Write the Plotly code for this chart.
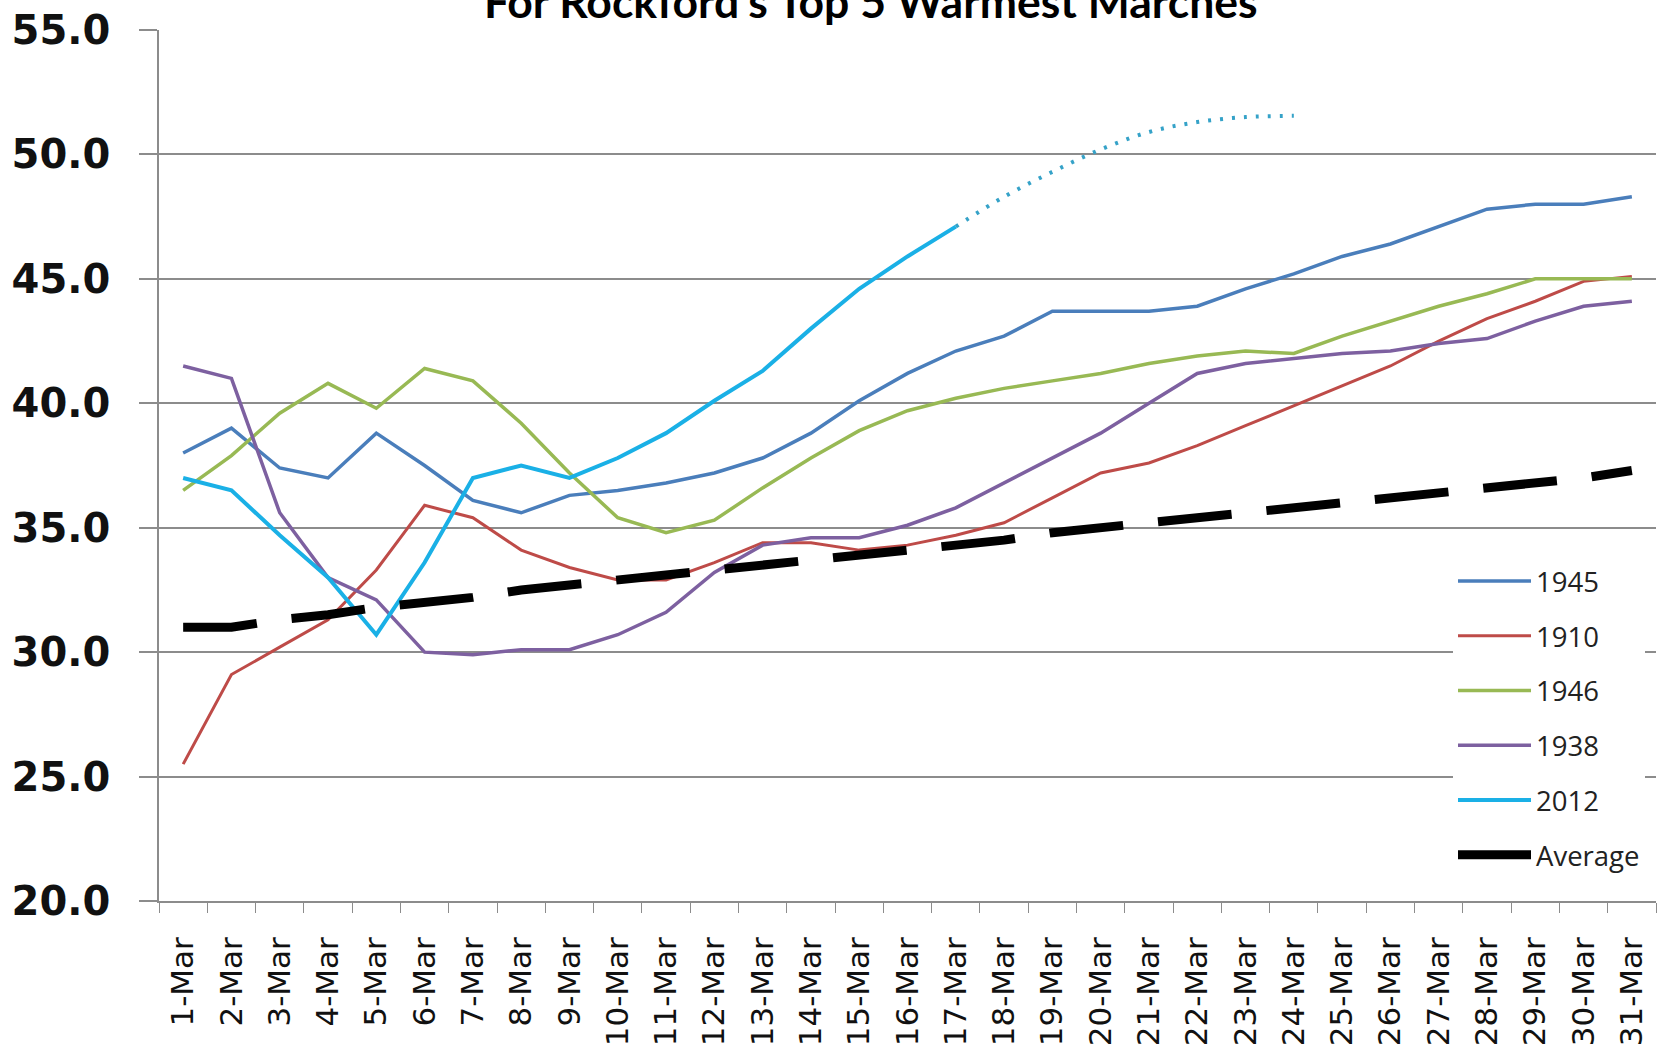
import plotly.graph_objects as go

days = ["1-Mar", "2-Mar", "3-Mar", "4-Mar", "5-Mar", "6-Mar", "7-Mar", "8-Mar", "9-Mar", "10-Mar",
        "11-Mar", "12-Mar", "13-Mar", "14-Mar", "15-Mar", "16-Mar", "17-Mar", "18-Mar", "19-Mar", "20-Mar",
        "21-Mar", "22-Mar", "23-Mar", "24-Mar", "25-Mar", "26-Mar", "27-Mar", "28-Mar", "29-Mar", "30-Mar",
        "31-Mar"]

y1945 = [38.0, 39.0, 37.4, 37.0, 38.8, 37.5, 36.1, 35.6, 36.3, 36.5, 36.8, 37.2, 37.8, 38.8, 40.1, 41.2,
         42.1, 42.7, 43.7, 43.7, 43.7, 43.9, 44.6, 45.2, 45.9, 46.4, 47.1, 47.8, 48.0, 48.0, 48.3]
y1910 = [25.5, 29.1, 30.2, 31.3, 33.3, 35.9, 35.4, 34.1, 33.4, 32.9, 32.9, 33.6, 34.4, 34.4, 34.1, 34.3,
         34.7, 35.2, 36.2, 37.2, 37.6, 38.3, 39.1, 39.9, 40.7, 41.5, 42.5, 43.4, 44.1, 44.9, 45.1]
y1946 = [36.5, 37.9, 39.6, 40.8, 39.8, 41.4, 40.9, 39.2, 37.2, 35.4, 34.8, 35.3, 36.6, 37.8, 38.9, 39.7,
         40.2, 40.6, 40.9, 41.2, 41.6, 41.9, 42.1, 42.0, 42.7, 43.3, 43.9, 44.4, 45.0, 45.0, 45.0]
y1938 = [41.5, 41.0, 35.6, 33.0, 32.1, 30.0, 29.9, 30.1, 30.1, 30.7, 31.6, 33.2, 34.3, 34.6, 34.6, 35.1,
         35.8, 36.8, 37.8, 38.8, 40.0, 41.2, 41.6, 41.8, 42.0, 42.1, 42.4, 42.6, 43.3, 43.9, 44.1]
y2012 = [37.0, 36.5, 34.7, 33.0, 30.7, 33.6, 37.0, 37.5, 37.0, 37.8, 38.8, 40.1, 41.3, 43.0, 44.6, 45.9,
         47.1]
proj_days = ["17-Mar", "18-Mar", "19-Mar", "20-Mar", "21-Mar", "22-Mar", "23-Mar", "24-Mar"]
y2012_proj = [47.1, 48.3, 49.3, 50.2, 50.9, 51.3, 51.5, 51.55]
y_avg = [31.0, 31.0, 31.3, 31.5, 31.8, 32.0, 32.2, 32.5, 32.7, 32.9, 33.1, 33.3, 33.5, 33.7, 33.9, 34.1,
         34.3, 34.5, 34.8, 35.0, 35.2, 35.4, 35.6, 35.8, 36.0, 36.2, 36.4, 36.6, 36.8, 37.0, 37.3]
y_ticks = [20, 25, 30, 35, 40, 45, 50, 55]
title_text = "For Rockford's Top 5 Warmest Marches"

fig = go.Figure()

series = [
    ("1945", y1945, "#4A7EBB", 3.5),
    ("1910", y1910, "#BE4B48", 3.0),
    ("1946", y1946, "#98B954", 3.5),
    ("1938", y1938, "#7D60A0", 3.5),
]
for name, ys, col, w in series:
    fig.add_trace(go.Scatter(x=days[:len(ys)], y=ys, name=name, mode="lines",
                             line=dict(color=col, width=w), legendgroup=name))

fig.add_trace(go.Scatter(x=days[:len(y2012)], y=y2012, name="2012", mode="lines",
                         line=dict(color="#1AB0E6", width=4), legendgroup="2012"))
fig.add_trace(go.Scatter(x=proj_days, y=y2012_proj, name="2012 projection", mode="lines",
                         line=dict(color="#35A2C8", width=4, dash="3px,9px", shape="spline"),
                         showlegend=False, legendgroup="proj"))
fig.add_trace(go.Scatter(x=days, y=y_avg, name="Average", mode="lines",
                         line=dict(color="#000000", width=9, dash="74px,35px"),
                         legendgroup="Average"))

fig.add_annotation(text="<b>" + title_text + "</b>", xref="paper", yref="paper",
                   x=(871 - 159) / 1497, y=1 + 1 / 871.5, xanchor="center", yanchor="bottom",
                   showarrow=False, font=dict(family="Lato", size=44.5, color="#000000"))

fig.update_layout(
    width=1663, height=1055,
    margin=dict(l=159, r=7, t=30, b=154, pad=0),
    paper_bgcolor="white", plot_bgcolor="white",
    showlegend=True,
    legend=dict(x=(1453 - 159) / 1497, y=1 - (557 - 30) / 871.5, xanchor="left", yanchor="top",
                bgcolor="white", borderwidth=0, tracegroupgap=16, itemwidth=73,
                font=dict(family="Open Sans", size=27.5, color="#222222"),
                traceorder="grouped"),
    xaxis=dict(type="category", categoryorder="array", categoryarray=days, automargin=False,
               range=[-0.5, 30.5], showgrid=False, showline=True, linecolor="#8C8C8C", linewidth=1.5,
               ticks="outside", tickson="boundaries", ticklen=10, tickcolor="#8C8C8C", tickwidth=1.2,
               tickangle=-90, ticklabelstandoff=22,
               tickfont=dict(family="DejaVu Sans", size=31, color="#111111")),
    yaxis=dict(range=[20, 55], tickvals=y_ticks, tickformat=".1f", showgrid=True, automargin=False,
               gridcolor="#8C8C8C", gridwidth=1.5, showline=True, linecolor="#8C8C8C", linewidth=1.5,
               ticks="outside", ticklen=18, tickcolor="#8C8C8C", tickwidth=1.5,
               ticklabelstandoff=21, zeroline=False,
               tickfont=dict(family="DejaVu Sans", size=40, color="#111111", weight="bold")),
)

fig.write_html("out.html", config={"displayModeBar": False},
               post_script="document.body.style.margin='0';document.body.style.overflow='hidden';")
